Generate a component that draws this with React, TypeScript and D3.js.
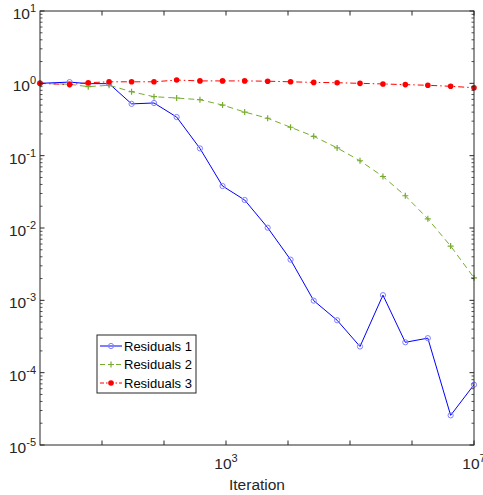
import React from "react";
import * as d3 from "d3";

const iterations = [1, 3, 6, 13, 30, 69, 160, 380, 880, 2000, 4700, 11000, 26000, 62000, 145000, 340000, 780000, 1800000, 4200000, 10000000];
const residuals1 = [1.0, 1.04, 0.99, 0.99, 0.52, 0.535, 0.342, 0.126, 0.038, 0.0244, 0.0101, 0.00365, 0.00099, 0.00053, 0.00023, 0.00118, 0.000263, 0.0003, 0.0000257, 0.0000682];
const residuals2 = [1.0, 0.97, 0.9, 0.94, 0.766, 0.653, 0.627, 0.594, 0.501, 0.401, 0.329, 0.247, 0.185, 0.128, 0.085, 0.0515, 0.0279, 0.0134, 0.00563, 0.00205];
const residuals3 = [1.0, 0.96, 1.02, 1.05, 1.05, 1.05, 1.11, 1.08, 1.08, 1.08, 1.07, 1.05, 1.03, 1.02, 1.0, 0.98, 0.96, 0.94, 0.91, 0.87];
const seriesNames = ["Residuals 1", "Residuals 2", "Residuals 3"];
const xTickValues = [1e1, 1e2, 1e3, 1e4, 1e5, 1e6, 1e7];
const xLabelExps = [3, 7];
const yExps = [-5, -4, -3, -2, -1, 0, 1];

const W = 483, H = 495;
const L = 40, R = 474, T = 11, B = 445;
const axisColor = "#262626";
const font = "'Liberation Sans', Arial, Helvetica, sans-serif";

export default function App() {
  const x = d3.scaleLog().domain([1, 1e7]).range([L, R]);
  const y = d3.scaleLog().domain([1e-5, 10]).range([B, T]);

  const series = [
    { name: seriesNames[0], values: residuals1, color: "#0000ff", dash: "", marker: "circle" },
    { name: seriesNames[1], values: residuals2, color: "#77ac30", dash: "6,4", marker: "plus" },
    { name: seriesNames[2], values: residuals3, color: "#ff0000", dash: "6,3,1.5,3", marker: "dot" },
  ];

  const line = d3.line<[number, number]>().x(d => x(d[0])).y(d => y(d[1]));

  const minorY: number[] = [];
  for (const e of yExps.slice(0, -1)) {
    for (let k = 2; k <= 9; k++) minorY.push(k * Math.pow(10, e));
  }

  const marker = (m: string, color: string, cx: number, cy: number, key: any) => {
    if (m === "circle")
      return <circle key={key} cx={cx} cy={cy} r={2.6} fill="none" stroke="#7f7fff" strokeWidth={1} />;
    if (m === "plus")
      return (
        <path key={key} d={`M${cx - 3},${cy}H${cx + 3}M${cx},${cy - 3}V${cy + 3}`} stroke={color} strokeWidth={1.2} />
      );
    return <circle key={key} cx={cx} cy={cy} r={2.8} fill={color} stroke="none" />;
  };

  const legX = 97, legY = 335, legW = 99, legH = 58;
  const rowY = [346, 364.5, 383];

  return (
    <svg width={W} height={H} style={{ position: "absolute", left: 0, top: 0, background: "#fff" }}>
      <rect x={0} y={0} width={W} height={H} fill="#fff" />
      {/* series */}
      {series.map((s, i) => (
        <g key={i}>
          <path
            d={line(iterations.map((it, j) => [it, s.values[j]] as [number, number])) || ""}
            fill="none"
            stroke={s.color}
            strokeWidth={1}
            strokeDasharray={s.dash}
          />
          {iterations.map((it, j) => marker(s.marker, s.color, x(it), y(s.values[j]), j))}
        </g>
      ))}
      {/* axes box */}
      <rect x={L} y={T} width={R - L} height={B - T} fill="none" stroke={axisColor} strokeWidth={1} />
      {/* x ticks */}
      {xTickValues.map((v, i) => (
        <g key={i}>
          <line x1={x(v)} x2={x(v)} y1={B} y2={B - 4.5} stroke={axisColor} />
          <line x1={x(v)} x2={x(v)} y1={T} y2={T + 4.5} stroke={axisColor} />
        </g>
      ))}
      {xLabelExps.map((e, i) => (
        <text key={i} x={x(Math.pow(10, e))} y={469} fontFamily={font} fontSize={15.5} fill={axisColor} textAnchor="middle">
          10
          <tspan dy={-7} fontSize={11}>{e}</tspan>
        </text>
      ))}
      {/* y ticks */}
      {yExps.map((e, i) => (
        <g key={i}>
          <line x1={L} x2={L + 4.5} y1={y(Math.pow(10, e))} y2={y(Math.pow(10, e))} stroke={axisColor} />
          <line x1={R} x2={R - 4.5} y1={y(Math.pow(10, e))} y2={y(Math.pow(10, e))} stroke={axisColor} />
          <text x={36} y={y(Math.pow(10, e)) + 8} fontFamily={font} fontSize={15.5} fill={axisColor} textAnchor="end">
            10
            <tspan dy={-7} fontSize={11}>{e}</tspan>
          </text>
        </g>
      ))}
      {minorY.map((v, i) => (
        <g key={i}>
          <line x1={L} x2={L + 2.5} y1={y(v)} y2={y(v)} stroke={axisColor} strokeWidth={0.8} />
          <line x1={R} x2={R - 2.5} y1={y(v)} y2={y(v)} stroke={axisColor} strokeWidth={0.8} />
        </g>
      ))}
      {/* x label */}
      <text x={(L + R) / 2} y={490} textAnchor="middle" fontFamily={font} fontSize={15.5} fill={axisColor}>
        Iteration
      </text>
      {/* legend */}
      <rect x={legX} y={legY} width={legW} height={legH} fill="#fff" stroke={axisColor} strokeWidth={1} />
      {series.map((s, i) => (
        <g key={i}>
          <line x1={100} x2={122} y1={rowY[i]} y2={rowY[i]} stroke={s.color} strokeWidth={1} strokeDasharray={s.dash ? (i === 1 ? "5,3" : "4,2,1.5,2") : ""} />
          {marker(s.marker, s.color, 111, rowY[i], "m")}
          <text x={124} y={rowY[i] + 4.5} fontFamily={font} fontSize={13} fill="#000">
            {s.name}
          </text>
        </g>
      ))}
    </svg>
  );
}
